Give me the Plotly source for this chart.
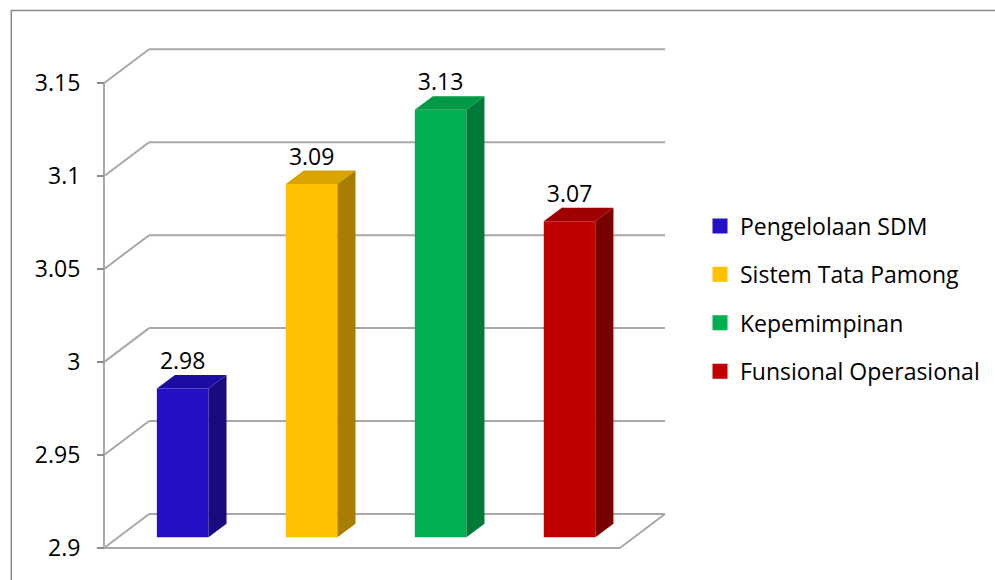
import plotly.graph_objects as go

# ---- data ----
categories = ["Pengelolaan SDM", "Sistem Tata Pamong", "Kepemimpinan", "Funsional Operasional"]
values = [2.98, 3.09, 3.13, 3.07]
label_texts = ["2.98", "3.09", "3.13", "3.07"]
tick_vals = [2.9, 2.95, 3.0, 3.05, 3.1, 3.15]
tick_text = ["2.9", "2.95", "3", "3.05", "3.1", "3.15"]

front_colors = ["#2411C6", "#FFC000", "#00B050", "#C00000"]
top_colors = ["#1D0DA2", "#D9A300", "#009A46", "#9E0000"]
side_colors = ["#180B7E", "#A87E00", "#007A38", "#780000"]

# ---- pseudo-3D geometry (in axis units) ----
Y0 = tick_vals[0]
YMAXT = tick_vals[-1]
DX, DY = 0.35, 0.01829          # depth offset of the back wall
F1, F2 = 0.315, 0.715           # bar front / back depth fractions
BW = 0.4                        # bar width
FONT = "Open Sans"
GRID = "#A8A8A8"
XL, XR = -0.5, len(values) - 0.5

fig = go.Figure()

shapes = []


def seg(x0, y0, x1, y1):
    shapes.append(dict(type="line", xref="x", yref="y", x0=x0, y0=y0, x1=x1, y1=y1,
                       line=dict(color=GRID, width=2), layer="below"))


# floor
seg(XL, Y0, XR, Y0)
seg(XR, Y0, XR + DX, Y0 + DY)
seg(XL, Y0, XL + DX, Y0 + DY)
seg(XL + DX, Y0 + DY, XR + DX, Y0 + DY)
# back-wall gridlines
for v in tick_vals[1:]:
    seg(XL, v, XL + DX, v + DY)
    seg(XL + DX, v + DY, XR + DX, v + DY)
# left axis line
seg(XL, Y0, XL, YMAXT)

fx = [i + F1 * DX for i in range(len(values))]
fy = F1 * DY
sdx = (F2 - F1) * DX
sdy = (F2 - F1) * DY

# front faces
fig.add_trace(go.Bar(
    x=fx, y=[v - Y0 for v in values], base=[Y0 + fy] * len(values),
    width=BW, marker=dict(color=front_colors, line=dict(width=0)),
    hoverinfo="skip", showlegend=False))

for i, v in enumerate(values):
    xl = fx[i] - BW / 2
    xr = fx[i] + BW / 2
    yt = v + fy
    yb = Y0 + fy
    # top face
    fig.add_trace(go.Scatter(
        x=[xl, xr, xr + sdx, xl + sdx, xl],
        y=[yt, yt, yt + sdy, yt + sdy, yt],
        fill="toself", fillcolor=top_colors[i], mode="lines",
        line=dict(width=0, color=top_colors[i]), hoverinfo="skip", showlegend=False))
    # side face
    fig.add_trace(go.Scatter(
        x=[xr, xr, xr + sdx, xr + sdx, xr],
        y=[yb, yt, yt + sdy, yb + sdy, yb],
        fill="toself", fillcolor=side_colors[i], mode="lines",
        line=dict(width=0, color=side_colors[i]), hoverinfo="skip", showlegend=False))

# data labels
fig.add_trace(go.Scatter(
    x=fx, y=[v + F2 * DY for v in values], text=label_texts,
    mode="text", textposition="top center",
    textfont=dict(family=FONT, size=23, color="black"),
    cliponaxis=False, hoverinfo="skip", showlegend=False))

# legend entries
for i, c in enumerate(categories):
    fig.add_trace(go.Scatter(
        x=[None], y=[None], mode="markers", name=c, legendgroup=c,
        marker=dict(symbol="square", size=15, color=front_colors[i])))

PXU_X = 129.4
PXU_Y = 1858.8
L, R, T, B = 94, 305, 40, 22
W = 995 - L - R
H = 580 - T - B
xmin = XL - 10 / PXU_X
ymin = Y0 - 10 / PXU_Y

shapes.append(dict(type="rect", xref="paper", yref="paper",
                   x0=(11 - L) / W, x1=(1010 - L) / W,
                   y0=(580 - B - 600) / H, y1=(580 - B - 10.5) / H,
                   line=dict(color="#8A8A8A", width=1.5), fillcolor="rgba(0,0,0,0)",
                   layer="below"))

fig.update_layout(
    width=995, height=580,
    margin=dict(l=L, r=R, t=T, b=B),
    paper_bgcolor="white", plot_bgcolor="white",
    barmode="overlay",
    font=dict(family=FONT, size=23, color="black"),
    xaxis=dict(range=[xmin, xmin + W / PXU_X], visible=False, fixedrange=True),
    yaxis=dict(range=[ymin, ymin + H / PXU_Y], anchor="free", position=10 / W,
               tickvals=tick_vals, ticktext=tick_text, ticks="outside", ticklen=7,
               tickcolor="#8C8C8C", tickwidth=1.5, showgrid=False, zeroline=False,
               showline=False, ticklabelstandoff=12, fixedrange=True,
               tickfont=dict(family=FONT, size=23, color="black")),
    legend=dict(xref="container", yref="container", x=700 / 995, y=1 - 299 / 580,
                xanchor="left", yanchor="middle", tracegroupgap=15.5,
                font=dict(family=FONT, size=23, color="black"),
                bgcolor="rgba(0,0,0,0)"),
    shapes=shapes,
)

fig.write_html("out.html", config={"displayModeBar": False},
               post_script="document.body.style.margin='0';")
